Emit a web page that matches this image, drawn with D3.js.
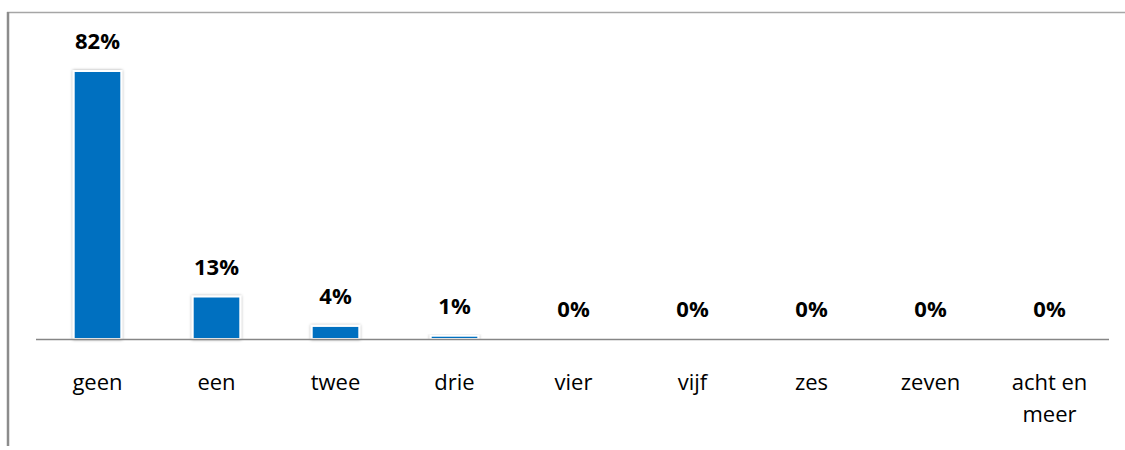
<!DOCTYPE html>
<html><head><meta charset="utf-8">
<script src="https://cdn.jsdelivr.net/npm/d3@7"></script>
<style>body{margin:0;background:#fff}svg{display:block}</style>
</head><body>
<script>
const categories = ["geen","een","twee","drie","vier","vijf","zes","zeven","acht en meer"];
const values = [82,13,4,1,0,0,0,0,0];
const valueLabels = ["82%","13%","4%","1%","0%","0%","0%","0%","0%"];

const W=1125,H=450;
const svg=d3.select("body").append("svg").attr("width",W).attr("height",H);
const defs=svg.append("defs");
const f=defs.append("filter").attr("id","sh").attr("x","-30%").attr("y","-30%").attr("width","160%").attr("height","160%");
f.append("feDropShadow").attr("dx",0).attr("dy",0).attr("stdDeviation",1.6).attr("flood-color","#000").attr("flood-opacity",0.35);

// frame
svg.append("line").attr("x1",7).attr("x2",W).attr("y1",12.5).attr("y2",12.5).attr("stroke","#a6a6a6").attr("stroke-width",1.5);
svg.append("line").attr("x1",8).attr("x2",8).attr("y1",12).attr("y2",446).attr("stroke","#8c8c8c").attr("stroke-width",2.5);

const x=d3.scaleBand().domain(categories).range([38,1109]).paddingInner(0.6).paddingOuter(0.3);
const y=d3.scaleLinear().domain([0,82]).range([339,71]);

const g=svg.append("g");
g.selectAll("rect.bar").data(values).join("rect")
 .attr("x",(d,i)=>x(categories[i]))
 .attr("width",x.bandwidth())
 .attr("y",d=>y(d))
 .attr("height",d=>y(0)-y(d))
 .attr("fill",d=>d>0?"#0070C0":"none")
 .attr("stroke",d=>d>0?"#fff":"none").attr("stroke-width",2)
 .attr("filter",d=>d>0?"url(#sh)":null);

// baseline
svg.append("line").attr("x1",36).attr("x2",1109).attr("y1",339.5).attr("y2",339.5).attr("stroke","#868686").attr("stroke-width",1.5);

const FONT="'Open Sans', Lato, sans-serif";
// value labels
g.selectAll("text.v").data(values).join("text")
 .attr("x",(d,i)=>x(categories[i])+x.bandwidth()/2)
 .attr("y",d=>y(d)-22)
 .attr("text-anchor","middle")
 .attr("font-family",FONT).attr("font-weight","bold").attr("font-size",22)
 .attr("fill","#000")
 .text((d,i)=>valueLabels[i]);

// category labels
const xa=svg.append("g");
categories.forEach((c,i)=>{
  const cx=x(c)+x.bandwidth()/2;
  const words=c.split(" ");
  const lines = words.length>2 ? [words.slice(0,2).join(" "),words.slice(2).join(" ")] : [c];
  const t=xa.append("text").attr("x",cx).attr("y",389.5).attr("text-anchor","middle")
   .attr("font-family",FONT).attr("font-size",22).attr("fill","#000");
  lines.forEach((l,j)=>t.append("tspan").attr("x",cx).attr("dy",j?32:0).text(l));
});
</script>
</body></html>
